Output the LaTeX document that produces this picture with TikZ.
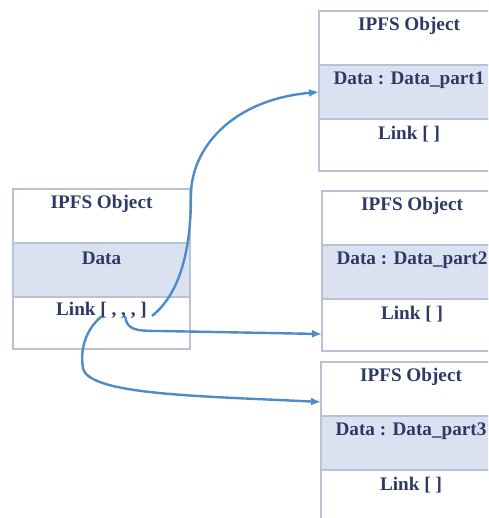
\documentclass[tikz,border=0pt]{standalone}
\usepackage{fontspec}
\setmainfont{Liberation Serif}
\usetikzlibrary{positioning,arrows.meta}

\definecolor{boxline}{RGB}{184,193,214}
\definecolor{bandfill}{RGB}{218,226,241}
\definecolor{txtblue}{RGB}{46,58,102}
\definecolor{arrowblue}{RGB}{79,138,201}

\tikzset{
	sect/.style={draw=boxline, line width=0.7pt, rectangle, minimum width=88.5pt, inner sep=0pt, outer sep=0pt},
	head/.style={sect, fill=white, minimum height=27pt},
	band/.style={sect, fill=bandfill, minimum height=27pt},
	linkrow/.style={sect, fill=white, minimum height=26pt},
	wide/.style={minimum width=90pt},
	txt/.style={text=txtblue, font=\bfseries\fontsize{9.6}{11}\selectfont, inner sep=0pt},
	ptr/.style={arrowblue, line width=1.2pt, -{Latex[length=5pt,width=4pt]}}
}

\begin{document}
\begin{tikzpicture}[x=0.5pt,y=-0.5pt]
	\clip (0,0) rectangle (488,518);
	\fill[white] (0,0) rectangle (488,518);

	% root object
	\node[head] (r-head) at (101.5,216) {};
	\node[band, below=0pt of r-head] (r-data) {};
	\node[linkrow, below=0pt of r-data] (r-link) {};
	\node[txt, below=3pt of r-head.north] (r-head-t) {IPFS Object};
	\node[txt, below=4.5pt of r-data.north] (r-data-t) {Data};
	\node[txt, below=2.5pt of r-link.north] (r-link-t) {Link [ , , , ]};

	% part 1
	\node[head, wide] (p1-head) at (409,38) {};
	\node[band, wide, below=0pt of p1-head] (p1-data) {};
	\node[linkrow, wide, below=0pt of p1-data] (p1-link) {};
	\node[txt, below=3pt of p1-head.north] (p1-head-t) {IPFS Object};
	\node[txt, below=3pt of p1-data.north] (p1-data-t) {Data : Data\_part1};
	\node[txt, below=3.5pt of p1-link.north] (p1-link-t) {Link [ ]};

	% part 2
	\node[head, wide] (p2-head) at (412,218) {};
	\node[band, wide, below=0pt of p2-head] (p2-data) {};
	\node[linkrow, wide, below=0pt of p2-data] (p2-link) {};
	\node[txt, below=3pt of p2-head.north] (p2-head-t) {IPFS Object};
	\node[txt, below=3pt of p2-data.north] (p2-data-t) {Data : Data\_part2};
	\node[txt, below=3.5pt of p2-link.north] (p2-link-t) {Link [ ]};

	% part 3
	\node[head, wide] (p3-head) at (411,389) {};
	\node[band, wide, below=0pt of p3-head] (p3-data) {};
	\node[linkrow, wide, below=0pt of p3-data] (p3-link) {};
	\node[txt, below=3pt of p3-head.north] (p3-head-t) {IPFS Object};
	\node[txt, below=3pt of p3-data.north] (p3-data-t) {Data : Data\_part3};
	\node[txt, below=3.5pt of p3-link.north] (p3-link-t) {Link [ ]};

	% links
	\coordinate (l1) at (152,316);
	\coordinate (l2) at (125,316);
	\coordinate (l3) at (102,316);
	\draw[ptr] (l1) .. controls (182,292) and (191,245) .. (191,195)
		.. controls (191,150) and (230,100) .. (p1-data.west);
	\draw[ptr] (l2) .. controls (127,330) and (135,331) .. (160,331)
		-- ([yshift=-4.5pt]p2-link.west);
	\draw[ptr] (l3) .. controls (85,330) and (80,350) .. (83,368)
		.. controls (88,395) and (200,396) .. ([yshift=-6.5pt]p3-head.west);
\end{tikzpicture}
\end{document}
